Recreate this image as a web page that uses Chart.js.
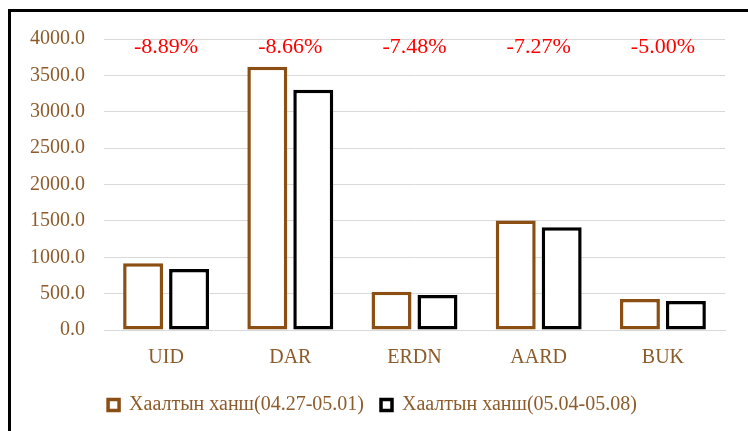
<!DOCTYPE html>
<html>
<head>
<meta charset="utf-8">
<script src="https://cdn.jsdelivr.net/npm/chart.js@4/dist/chart.umd.min.js"></script>
<style>
  html, body { margin: 0; padding: 0; background: #fff; overflow: hidden; }
  #wrap { position: relative; width: 748px; height: 431px; }
  #frame { position: absolute; left: 8px; top: 9px; width: 800px; height: 500px; border: 3px solid #000; box-sizing: border-box; pointer-events: none; }
  canvas { position: absolute; left: 0; top: 0; }
</style>
</head>
<body>
<div id="wrap">
  <canvas id="c" width="748" height="431"></canvas>
  <div id="frame"></div>
</div>
<script>
const categories = ['UID', 'DAR', 'ERDN', 'AARD', 'BUK'];
const seriesNames = ['Хаалтын ханш(04.27-05.01)', 'Хаалтын ханш(05.04-05.08)'];
const week1 = [918, 3617, 526, 1504, 425];
const week2 = [840, 3304, 480, 1412, 397];
const changeLabels = ['-8.89%', '-8.66%', '-7.48%', '-7.27%', '-5.00%'];

const FONT = "'Liberation Serif', 'Times New Roman', serif";
const BROWN_TXT = '#8D5B2A';
const BROWN = '#8B4F14';

const changePlugin = {
  id: 'changeLabels',
  afterDatasetsDraw(chart) {
    const ctx = chart.ctx;
    const x = chart.scales.x;
    const top = chart.chartArea.top;
    ctx.save();
    ctx.font = '22px ' + FONT;
    ctx.fillStyle = '#FF0000';
    ctx.textAlign = 'center';
    ctx.textBaseline = 'middle';
    changeLabels.forEach((t, i) => {
      ctx.fillText(t, x.getPixelForValue(i), top + 8);
    });
    ctx.restore();
  }
};

new Chart(document.getElementById('c'), {
  type: 'bar',
  data: {
    labels: categories,
    datasets: [
      { label: seriesNames[0], data: week1, backgroundColor: '#FFFFFF', borderColor: BROWN, borderWidth: 3.5, borderSkipped: false,
        categoryPercentage: 0.74, barPercentage: 0.87 },
      { label: seriesNames[1], data: week2, backgroundColor: '#FFFFFF', borderColor: '#000000', borderWidth: 3.5, borderSkipped: false,
        categoryPercentage: 0.74, barPercentage: 0.87 }
    ]
  },
  options: {
    responsive: false,
    animation: false,
    layout: { padding: { left: 20, right: 23, top: 39, bottom: 6 } },
    plugins: {
      tooltip: { enabled: false },
      legend: {
        position: 'bottom',
        labels: {
          color: BROWN_TXT,
          font: { family: FONT, size: 20 },
          boxWidth: 11,
          boxHeight: 11,
          padding: 17
        }
      }
    },
    scales: {
      x: {
        grid: { display: false },
        border: { display: true, color: '#D9D9D9', width: 1 },
        ticks: { color: BROWN_TXT, font: { family: FONT, size: 20 }, padding: 8 }
      },
      y: {
        min: 0, max: 4000,
        afterFit(s) { s.width = 84; },
        border: { display: false },
        grid: { color: '#D9D9D9', drawTicks: false },
        ticks: {
          stepSize: 500,
          color: BROWN_TXT,
          font: { family: FONT, size: 20 },
          padding: 19,
          callback: v => Number(v).toFixed(1)
        }
      }
    }
  },
  plugins: [changePlugin]
});
</script>
</body>
</html>
